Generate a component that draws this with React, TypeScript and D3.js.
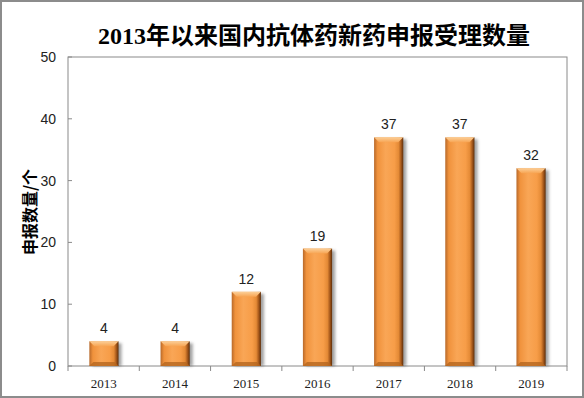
import { useEffect, useRef } from 'react';
import * as d3 from 'd3';

const years = ['2013', '2014', '2015', '2016', '2017', '2018', '2019'];
const counts = [4, 4, 12, 19, 37, 37, 32];
const yTicks = [0, 10, 20, 30, 40, 50];

const W = 584;
const H = 398;

export default function App() {
  const svgRef = useRef<SVGSVGElement>(null);

  useEffect(() => {
    if (!svgRef.current) return;
    const svg = d3.select(svgRef.current);
    svg.selectAll('*').remove();

    const plot = { left: 68, right: 567, top: 57, bottom: 366 };

    const x = d3.scaleBand<string>().domain(years).range([plot.left, plot.right]).paddingInner(0.59).paddingOuter(0.3);
    const xBand = d3.scaleBand<string>().domain(years).range([plot.left, plot.right]);
    const y = d3.scaleLinear().domain([0, 50]).range([plot.bottom, plot.top]);

    // ── Defs ──
    const defs = svg.append('defs');
    const grad = defs.append('linearGradient').attr('id', 'barGrad').attr('x1', 0).attr('x2', 1).attr('y1', 0).attr('y2', 0);
    [
      ['0%', '#b8692a'],
      ['12%', '#f0923c'],
      ['40%', '#f9a656'],
      ['70%', '#f79d48'],
      ['84%', '#e48a36'],
      ['92%', '#a85a1c'],
      ['100%', '#5e2e0a'],
    ].forEach(([o, c]) => grad.append('stop').attr('offset', o).attr('stop-color', c));
    const capGrad = defs.append('linearGradient').attr('id', 'capGrad').attr('x1', 0).attr('x2', 0).attr('y1', 0).attr('y2', 1);
    capGrad.append('stop').attr('offset', '0%').attr('stop-color', '#fccf98');
    capGrad.append('stop').attr('offset', '100%').attr('stop-color', '#f7a452');
    const blur = defs.append('filter').attr('id', 'shadow').attr('x', '-20%').attr('y', '-20%').attr('width', '160%').attr('height', '140%');
    blur.append('feGaussianBlur').attr('stdDeviation', 1.5);

    // ── Outer frame ──
    svg.append('rect').attr('x', 1).attr('y', 1).attr('width', W - 2).attr('height', H - 2)
      .attr('fill', '#fff').attr('stroke', '#8c8c8c').attr('stroke-width', 2);

    // ── Title ──
    svg.append('text')
      .attr('x', 314).attr('y', 44)
      .attr('text-anchor', 'middle')
      .attr('font-family', '"Liberation Serif", "Noto Sans CJK SC", serif')
      .attr('font-weight', 'bold')
      .attr('font-size', '24px')
      .attr('fill', '#000')
      .text('2013年以来国内抗体药新药申报受理数量');

    // ── Plot frame ──
    svg.append('rect')
      .attr('x', plot.left).attr('y', plot.top)
      .attr('width', plot.right - plot.left).attr('height', plot.bottom - plot.top)
      .attr('fill', 'none').attr('stroke', '#8a8a8a').attr('stroke-width', 1);

    // ── Y axis ──
    svg.selectAll('line.ytick').data(yTicks).enter().append('line')
      .attr('x1', plot.left).attr('x2', plot.left + 4)
      .attr('y1', (d) => y(d)).attr('y2', (d) => y(d))
      .attr('stroke', '#8a8a8a');
    svg.selectAll('text.ylab').data(yTicks).enter().append('text')
      .attr('x', 56).attr('y', (d) => y(d) + 5)
      .attr('text-anchor', 'end')
      .attr('font-family', '"Liberation Sans", Arial, sans-serif')
      .attr('font-size', '14px')
      .attr('fill', '#222')
      .text((d) => d);

    svg.append('text')
      .attr('transform', 'translate(36,212) rotate(-90)')
      .attr('text-anchor', 'middle')
      .attr('font-family', '"Noto Sans CJK SC", sans-serif')
      .attr('font-weight', 'bold')
      .attr('font-size', '16px')
      .attr('fill', '#000')
      .text('申报数量/个');

    // ── X axis ──
    const bounds = years.map((yr) => xBand(yr)!).concat([plot.right]);
    svg.selectAll('line.xtick').data(bounds).enter().append('line')
      .attr('x1', (d) => d).attr('x2', (d) => d)
      .attr('y1', plot.bottom).attr('y2', plot.bottom + 5)
      .attr('stroke', '#8a8a8a');
    svg.selectAll('text.xlab').data(years).enter().append('text')
      .attr('x', (d) => xBand(d)! + xBand.bandwidth() / 2)
      .attr('y', plot.bottom + 22)
      .attr('text-anchor', 'middle')
      .attr('font-family', '"Liberation Serif", serif')
      .attr('font-size', '13px')
      .attr('fill', '#222')
      .text((d) => d);

    // ── Bars ──
    const bw = x.bandwidth();
    const g = svg.selectAll('g.bar').data(years.map((yr, i) => ({ yr, v: counts[i] }))).enter().append('g');
    g.append('rect')
      .attr('x', (d) => x(d.yr)! + 3).attr('y', (d) => y(d.v) + 2)
      .attr('width', bw).attr('height', (d) => plot.bottom - y(d.v) - 2)
      .attr('fill', '#444').attr('opacity', 0.5).attr('filter', 'url(#shadow)');
    g.append('rect')
      .attr('x', (d) => x(d.yr)!).attr('y', (d) => y(d.v))
      .attr('width', bw).attr('height', (d) => plot.bottom - y(d.v))
      .attr('fill', 'url(#barGrad)');
    g.append('path')
      .attr('d', (d) => {
        const x0 = x(d.yr)!;
        const y0 = y(d.v);
        const b = 5;
        return `M${x0},${y0}L${x0 + bw},${y0}L${x0 + bw - b},${y0 + b}L${x0 + b},${y0 + b}Z`;
      })
      .attr('fill', 'url(#capGrad)');
    g.append('path')
      .attr('d', (d) => {
        const x0 = x(d.yr)!;
        const y1 = plot.bottom;
        const b = 4;
        return `M${x0},${y1}L${x0 + bw},${y1}L${x0 + bw - b},${y1 - b}L${x0 + b},${y1 - b}Z`;
      })
      .attr('fill', '#b5661f').attr('opacity', 0.8);
    g.append('text')
      .attr('x', (d) => x(d.yr)! + bw / 2)
      .attr('y', (d) => y(d.v) - 8)
      .attr('text-anchor', 'middle')
      .attr('font-family', '"Liberation Sans", Arial, sans-serif')
      .attr('font-size', '14px')
      .attr('fill', '#222')
      .text((d) => d.v);
  }, []);

  return (
    <svg
      ref={svgRef}
      width={W}
      height={H}
      style={{ position: 'absolute', left: 0, top: 0, display: 'block' }}
    />
  );
}
